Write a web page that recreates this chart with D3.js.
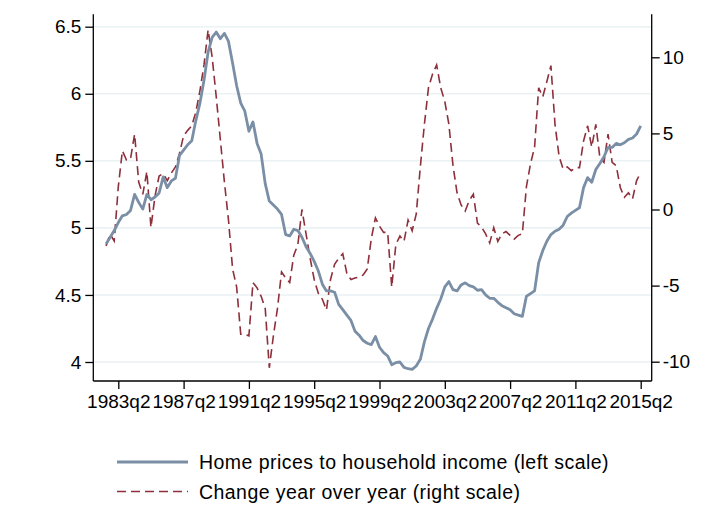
<!DOCTYPE html>
<html>
<head>
<meta charset="utf-8">
<script src="https://cdn.jsdelivr.net/npm/d3@7"></script>
<style>
  body { margin: 0; background: #fff; }
  svg { display: block; font-family: "Liberation Sans", Arial, sans-serif; }
</style>
</head>
<body>
<div id="chart"></div>
<script>
// Quarterly series, 1982q3 .. 2015q2
var startYear = 1982, startQuarter = 3;

// Home prices to household income (left scale)
var priceToIncome = [
  4.88, 4.93, 4.98, 5.04, 5.09, 5.10, 5.13, 5.25, 5.19, 5.14,
  5.25, 5.21, 5.23, 5.26, 5.38, 5.30, 5.35, 5.37, 5.54, 5.58,
  5.62, 5.65, 5.80, 5.93, 6.10, 6.31, 6.42, 6.46, 6.41, 6.45,
  6.39, 6.23, 6.06, 5.93, 5.87, 5.72, 5.79, 5.63, 5.55, 5.33,
  5.20, 5.17, 5.14, 5.10, 4.95, 4.94, 4.99, 4.98, 4.93, 4.86,
  4.81, 4.75, 4.68, 4.58, 4.53, 4.53, 4.52, 4.43, 4.39, 4.35,
  4.31, 4.23, 4.20, 4.16, 4.14, 4.13, 4.19, 4.11, 4.07, 4.045,
  3.98, 3.995, 4.00, 3.96, 3.95, 3.945, 3.97, 4.02, 4.15, 4.25,
  4.32, 4.40, 4.47, 4.56, 4.60, 4.54, 4.53, 4.575, 4.59, 4.57,
  4.56, 4.535, 4.54, 4.50, 4.475, 4.475, 4.445, 4.42, 4.405, 4.39,
  4.36, 4.35, 4.34, 4.49, 4.51, 4.53, 4.74, 4.83, 4.90, 4.95,
  4.975, 4.99, 5.02, 5.085, 5.11, 5.13, 5.15, 5.30, 5.375, 5.34,
  5.435, 5.48, 5.53, 5.60, 5.60, 5.63, 5.62, 5.635, 5.66, 5.67,
  5.70, 5.76
];

// Change year over year (right scale)
var yoyChange = [
  -2.39, -1.63, -2.07, 1.5, 3.86, 3.25, 3.35, 4.95, 1.8, 1.0,
  2.5, -1.18, 0.9, 2.2, 2.36, 1.9, 2.4, 2.8, 3.7, 4.85,
  5.2, 5.5, 6.4, 7.8, 9.5, 11.8, 10.0, 7.4, 4.6, 1.8,
  -0.7, -3.9, -5.1, -8.2, -8.2, -8.3, -4.8, -5.15, -5.7, -6.5,
  -10.4, -8.3, -6.5, -4.1, -4.5, -4.8, -3.0, -2.3, 0.0, -1.6,
  -3.2, -4.6, -5.5, -5.9, -6.6, -4.6, -3.6, -3.2, -2.9, -4.2,
  -4.6, -4.5, -4.45, -4.3, -3.9, -1.9, -0.55, -1.1, -1.5, -1.5,
  -5.1, -2.3, -1.75, -2.1, -0.7, -1.4, -0.3, 2.8, 5.6, 8.0,
  8.9, 9.5, 8.0, 7.1, 5.6, 2.9, 1.1, 0.3, -0.1, 0.6,
  1.0, -0.9, -1.15, -1.6, -2.2, -1.2, -2.1, -1.6, -1.45, -1.7,
  -1.95, -1.7, -1.6, 1.5, 3.0, 4.1, 8.0, 7.4, 8.4, 9.45,
  5.6, 3.5, 2.65, 2.8, 2.55, 2.75, 2.75, 4.5, 5.5, 4.1,
  5.6, 3.4, 3.1, 4.95, 3.1, 2.87, 1.45, 0.8, 1.1, 0.7,
  1.9, 2.43
];

var xTickLabels = ["1983q2", "1987q2", "1991q2", "1995q2", "1999q2",
                   "2003q2", "2007q2", "2011q2", "2015q2"];
var leftTicks = [4, 4.5, 5, 5.5, 6, 6.5];
var rightTicks = [-10, -5, 0, 5, 10];
var legendLabels = ["Home prices to household income (left scale)",
                    "Change year over year (right scale)"];

var blue = "#7a8fa6", red = "#8e2f3c", grid = "#eaf2f3";

var W = 713, H = 511;
var plot = {left: 93.3, right: 651.7, top: 14.3, bottom: 381};

var svg = d3.select("#chart").append("svg")
    .attr("width", W)
    .attr("height", H);

svg.append("rect").attr("width", W).attr("height", H).attr("fill", "#fff");

// quarter label -> fractional year
function qTime(label) {
    return +label.slice(0, 4) + (+label.slice(5) - 1) / 4;
}
var times = priceToIncome.map(function(d, i) {
    return startYear + (startQuarter - 1 + i) / 4;
});

// Scales
var x = d3.scaleLinear()
    .domain([qTime("1983q2"), qTime("2015q2")])
    .range([118.3, 640.7]);

var yL = d3.scaleLinear()
    .domain([4, 6.5])
    .range([362, 26.7]);

var yR = d3.scaleLinear()
    .domain([-10, 10])
    .range([361.7, 57.3]);

// Grid lines (left scale)
svg.append("g").selectAll("line")
    .data(leftTicks)
    .join("line")
    .attr("x1", plot.left).attr("x2", plot.right)
    .attr("y1", d => yL(d)).attr("y2", d => yL(d))
    .attr("stroke", grid)
    .attr("stroke-width", 1.6);

// Series
var priceLine = d3.line()
    .x((d, i) => x(times[i]))
    .y(d => yL(d));

var yoyLine = d3.line()
    .x((d, i) => x(times[i]))
    .y(d => yR(d));

svg.append("path")
    .datum(yoyChange)
    .attr("d", yoyLine)
    .attr("fill", "none")
    .attr("stroke", red)
    .attr("stroke-width", 1.6)
    .attr("stroke-dasharray", "9,5");

svg.append("path")
    .datum(priceToIncome)
    .attr("d", priceLine)
    .attr("fill", "none")
    .attr("stroke", blue)
    .attr("stroke-width", 2.8)
    .attr("stroke-linejoin", "round");

// Axes
var tickFont = "19px";

var leftAxis = svg.append("g")
    .attr("transform", `translate(${plot.left},0)`)
    .call(d3.axisLeft(yL).tickValues(leftTicks).tickFormat(d => String(d))
        .tickSize(8).tickPadding(4));

var rightAxis = svg.append("g")
    .attr("transform", `translate(${plot.right},0)`)
    .call(d3.axisRight(yR).tickValues(rightTicks).tickFormat(d => String(d))
        .tickSize(8).tickPadding(3));

var bottomAxis = svg.append("g")
    .attr("transform", `translate(0,${plot.bottom})`)
    .call(d3.axisBottom(x).tickValues(xTickLabels.map(qTime))
        .tickFormat((d, i) => xTickLabels[i])
        .tickSize(8).tickPadding(6));

[leftAxis, rightAxis, bottomAxis].forEach(function(g) {
    g.select(".domain").remove();
    g.selectAll(".tick line").attr("stroke", "#000").attr("stroke-width", 1.3);
    g.selectAll(".tick text")
        .attr("fill", "#000")
        .style("font-size", tickFont)
        .style("font-family", "'Liberation Sans', Arial, sans-serif");
});

// Axis lines
var axisLines = [
    [plot.left, plot.top, plot.left, plot.bottom],
    [plot.right, plot.top, plot.right, plot.bottom],
    [plot.left, plot.bottom, plot.right, plot.bottom]
];
svg.append("g").selectAll("line")
    .data(axisLines)
    .join("line")
    .attr("x1", d => d[0]).attr("y1", d => d[1])
    .attr("x2", d => d[2]).attr("y2", d => d[3])
    .attr("stroke", "#000")
    .attr("stroke-width", 1.3);

// Legend
var legend = svg.append("g").attr("transform", "translate(117,462)");
var rows = [
    {label: legendLabels[0], color: blue, width: 2.8, dash: null},
    {label: legendLabels[1], color: red, width: 1.6, dash: "9,5"}
];
var row = legend.selectAll("g")
    .data(rows)
    .join("g")
    .attr("transform", (d, i) => `translate(0,${i * 29.5})`);

row.append("line")
    .attr("x1", 0).attr("x2", 71)
    .attr("y1", 0).attr("y2", 0)
    .attr("stroke", d => d.color)
    .attr("stroke-width", d => d.width)
    .attr("stroke-dasharray", d => d.dash);

row.append("text")
    .attr("x", 82)
    .attr("y", 7)
    .attr("font-size", "19.5px")
    .attr("letter-spacing", "0.45px")
    .text(d => d.label);
</script>
</body>
</html>
